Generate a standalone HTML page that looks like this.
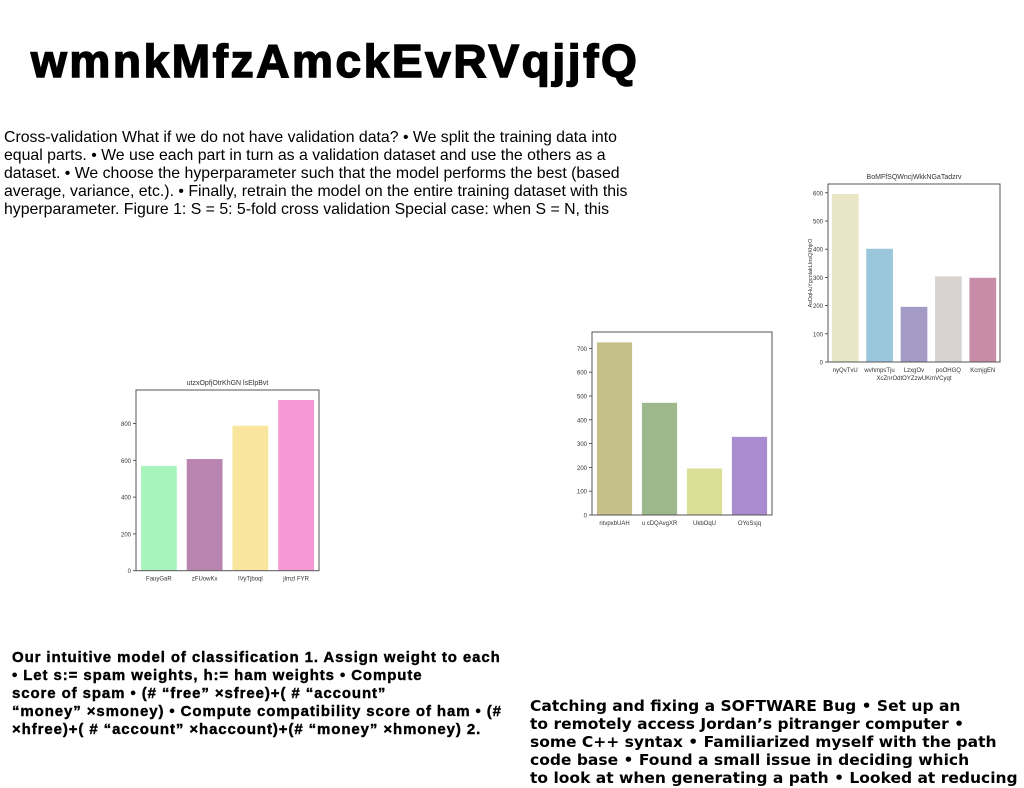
<!DOCTYPE html>
<html><head><meta charset="utf-8"><style>
body{margin:0;width:1024px;height:788px;background:#fff;position:relative;overflow:hidden;font-family:"Liberation Sans",sans-serif}
.abs{position:absolute;white-space:nowrap}
#title{left:31px;top:34px;font-size:46px;font-weight:900;letter-spacing:2.6px;color:#000;-webkit-text-stroke:1.5px #000}
#para{left:4px;top:129px;font-size:15.85px;line-height:18px;color:#000}
#bl{left:12px;top:649px;font-size:15px;line-height:18px;font-weight:bold;color:#000;letter-spacing:0.9px;-webkit-text-stroke:0.4px #000}
#br{left:530px;top:697px;font-family:"DejaVu Sans",sans-serif;font-size:15.5px;line-height:18px;font-weight:bold;color:#000}
svg{position:absolute;left:0;top:0}
svg text{font-family:"Liberation Sans",sans-serif;fill:#333}
</style></head><body>
<div id="title" class="abs">wmnkMfzAmckEvRVqjjfQ</div>
<div id="para" class="abs">Cross-validation What if we do not have validation data? • We split the training data into<br>equal parts. • We use each part in turn as a validation dataset and use the others as a<br>dataset. • We choose the hyperparameter such that the model performs the best (based<br>average, variance, etc.). • Finally, retrain the model on the entire training dataset with this<br>hyperparameter. Figure 1: S = 5: 5-fold cross validation Special case: when S = N, this</div>
<div id="bl" class="abs">Our intuitive model of classification 1. Assign weight to each<br>• Let s:= spam weights, h:= ham weights • Compute<br>score of spam • (# “free” ×sfree)+( # “account”<br>“money” ×smoney) • Compute compatibility score of ham • (#<br>×hfree)+( # “account” ×haccount)+(# “money” ×hmoney) 2.</div>
<div id="br" class="abs">Catching and fixing a SOFTWARE Bug • Set up an<br>to remotely access Jordan’s pitranger computer •<br>some C++ syntax • Familiarized myself with the path<br>code base • Found a small issue in deciding which<br>to look at when generating a path • Looked at reducing</div>
<svg id="svg" width="1024" height="788"></svg>
<script>
const c1Cats=["nyQvTvU","wvhmpsTju","LzxgOv","poOHGQ","KcmjgEN"];
const c1Vals=[597,403,197,305,300];
const c1Ticks=[0,100,200,300,400,500,600];
const c1Colors=["#e8e6c4","#9bc7dd","#a39bc6","#d8d3d0","#c98ca8"];
const c2Cats=["ntvpxbUAH","u cDQAvgXR","UkbOqU","OYoSsjq"];
const c2Vals=[727,473,197,330];
const c2Ticks=[0,100,200,300,400,500,600,700];
const c2Colors=["#c5c08a","#9db88a","#d9df96","#a98bd0"];
const c3Cats=["FauyGaR","zFUowKx","IVyTjboql","jlmzl FYR"];
const c3Vals=[572,609,790,930];
const c3Ticks=[0,200,400,600,800];
const c3Colors=["#a7f4bd","#b985b0","#fae59f","#f598d5"];
const NS="http://www.w3.org/2000/svg";
const svg=document.getElementById('svg');
function mk(tag,attrs,parent){const e=document.createElementNS(NS,tag);for(const k in attrs)e.setAttribute(k,attrs[k]);(parent||svg).appendChild(e);return e;}
function chart(o,cats,vals,ticks,colors,name){
  const g=mk('g',{});
  
  
  const y=v=>o.y0-(v/o.unit)*o.pxPerUnit;
  const band=(o.r-o.l)/cats.length;
  const x=i=>o.l+band*(i+0.5);
  const bw=band*o.bar;
  ticks.forEach(t=>{
    const tl=mk('line',{x1:o.l-3,x2:o.l,y1:y(t),y2:y(t),stroke:'#333','stroke-width':0.8},g);
    
    
    const tx=mk('text',{x:o.l-5,y:y(t)+2.5,'font-size':6,'text-anchor':'end'},g);
    tx.textContent=t;
    
    
  });
  vals.forEach((v,i)=>{
    const b=mk('rect',{x:x(i)-bw/2,y:y(v),width:bw,height:o.y0-y(v),fill:colors[i],stroke:'#fff','stroke-width':0.8},g);
    
    
    const tx=mk('text',{x:x(i),y:o.y0+10,'font-size':6,'text-anchor':'middle'},g);
    tx.textContent=cats[i];
    
    
  });
  const fr=mk('rect',{x:o.l,y:o.t,width:o.r-o.l,height:o.y0-o.t,fill:'none',stroke:'#555','stroke-width':1},g);
  
  
  if(o.title){const t=mk('text',{x:(o.l+o.r)/2,y:o.t-5,'font-size':7,'text-anchor':'middle'},g);t.textContent=o.title;
    
    }
  if(o.xlabel){const t=mk('text',{x:(o.l+o.r)/2,y:o.y0+18,'font-size':6,'text-anchor':'middle'},g);t.textContent=o.xlabel;
    
    }
  if(o.ylabel){const cy=(o.t+o.y0)/2;const t=mk('text',{x:o.l-16,y:cy,'font-size':5.5,'text-anchor':'middle',transform:`rotate(-90 ${o.l-16} ${cy})`},g);t.textContent=o.ylabel;
    
    }
}
chart({l:828,r:1000,t:184,y0:362,unit:100,pxPerUnit:28.2,bar:0.8,title:"BoMFfSQWncjWkkNGaTadzrv",xlabel:"XcZnrOdtOYZzwUKmVCyqt",ylabel:"AsDqHuYgcnlakLInsQKhjrO"},c1Cats,c1Vals,c1Ticks,c1Colors,'chart-top-right');
chart({l:592,r:772,t:332,y0:515,unit:100,pxPerUnit:23.8,bar:0.8},c2Cats,c2Vals,c2Ticks,c2Colors,'chart-middle');
chart({l:136,r:319,t:390,y0:570.7,unit:200,pxPerUnit:36.8,bar:0.8,title:"utzxOpfjOtrKhGN lsElpBvt"},c3Cats,c3Vals,c3Ticks,c3Colors,'chart-left');
</script>
</body></html>
